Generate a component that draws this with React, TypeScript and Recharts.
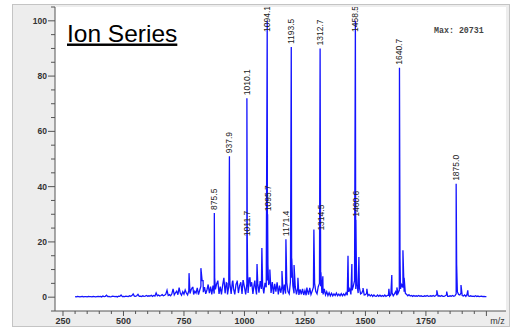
import React from "react";
import { ComposedChart, Line, Scatter, XAxis, YAxis, CartesianGrid } from "recharts";

// baseline noise, one value every 5 m/z starting at 300
const NOISE_START = 300;
const NOISE_STEP = 5;
const noise = [
  0.2, 0.1, 0.3, 0.2, 0.1, 0.2, 0.3, 0.1, 0.2, 0.2, 0.1, 0.3, 0.2, 0.2, 0.1, 0.3, 0.2, 0.1, 0.2, 0.3,
  0.2, 0.3, 0.1, 0.4, 0.2, 0.3, 0.7, 0.2, 0.3, 0.1, 0.2, 0.4, 0.3, 0.2, 0.3, 0.1, 0.4, 0.3, 0.8, 0.2,
  0.3, 0.2, 0.4, 0.3, 0.2, 0.5, 0.3, 0.6, 1.2, 0.4, 0.3, 0.5, 1.0, 0.3, 0.4, 0.2, 0.5, 0.3, 0.4, 0.6,
  0.3, 0.5, 0.4, 0.7, 0.3, 0.6, 0.4, 1.5, 0.5, 0.8, 0.4, 0.6, 0.9, 0.5, 0.7, 1.1, 2.5, 0.6, 0.9, 0.5,
  1.2, 3.0, 0.8, 1.6, 2.2, 0.9, 3.5, 1.4, 0.7, 2.0, 1.1, 2.6, 1.5, 0.8, 2.4, 1.3, 2.8, 3.5, 1.0, 2.2,
  1.5, 3.4, 0.9, 2.5, 4.0, 6.0, 1.8, 3.6, 1.2, 2.6, 4.6, 1.5, 3.8, 1.0, 4.2, 1.3, 2.8, 4.8, 6.0, 1.2,
  3.8, 1.0, 4.4, 7.0, 1.4, 5.2, 1.0, 3.8, 5.0, 1.2, 5.5, 3.0, 1.0, 4.6, 6.0, 1.5, 4.2, 5.4, 1.2, 6.0,
  3.6, 1.0, 4.8, 1.5, 7.0, 3.8, 5.4, 1.2, 4.6, 3.8, 1.0, 4.9, 1.6, 5.8, 3.0, 4.4, 1.4, 5.2, 3.6, 6.0,
  4.4, 5.6, 1.5, 5.5, 1.2, 4.8, 2.0, 5.4, 1.0, 4.2, 1.6, 4.0, 1.0, 4.6, 1.3, 5.2, 2.0, 1.2, 5.5, 7.0,
  4.2, 1.4, 3.8, 1.0, 3.2, 0.8, 2.8, 1.0, 3.0, 0.8, 2.4, 0.7, 2.6, 0.9, 3.4, 1.0, 2.2, 3.6, 5.0, 2.0,
  1.2, 3.8, 5.0, 4.0, 1.5, 1.0, 3.0, 0.8, 2.0, 0.6, 1.6, 0.5, 1.4, 0.5, 1.2, 0.6, 1.5, 0.5, 1.1, 0.5,
  1.3, 0.5, 1.2, 0.6, 1.6, 0.7, 2.0, 3.0, 1.0, 2.5, 4.0, 6.0, 3.0, 4.5, 1.5, 3.5, 1.2, 1.5, 2.6, 0.8,
  0.9, 1.4, 0.5, 1.0, 0.4, 0.9, 0.3, 0.8, 0.4, 0.3, 0.8, 0.3, 0.7, 0.3, 0.6, 0.3, 0.8, 0.3, 0.6, 0.7,
  0.4, 0.9, 1.6, 0.5, 1.2, 2.0, 0.7, 1.5, 2.5, 3.0, 4.5, 3.5, 2.0, 1.4, 1.0, 0.5, 0.9, 0.4, 0.6, 0.3,
  0.6, 0.3, 0.5, 0.3, 0.6, 0.3, 0.5, 0.3, 0.3, 0.5, 0.3, 0.6, 0.3, 0.4, 0.5, 0.3, 0.6, 0.3, 0.5, 1.0,
  0.4, 0.5, 0.3, 0.6, 0.3, 0.3, 0.5, 0.8, 0.3, 0.3, 0.5, 0.3, 0.6, 0.3, 0.5, 1.2, 2.0, 1.0, 0.8, 1.5,
  0.6, 0.4, 0.8, 0.3, 1.0, 0.5, 0.3, 0.5, 0.3, 0.4, 0.2, 0.5, 0.2, 0.4, 0.2, 0.3, 0.4, 0.2, 0.3, 0.2,
  0.2,
];

// labelled ions [m/z, rel. intensity]
const labelledPeaks: [number, number][] = [
  [875.5, 30.5], [937.9, 51], [1010.1, 72], [1011.7, 21], [1094.1, 100], [1095.7, 30],
  [1171.4, 21], [1193.5, 90.5], [1312.7, 90], [1314.5, 23], [1458.5, 100], [1460.6, 28],
  [1640.7, 83], [1875.0, 41],
];

// unlabelled peaks
const otherPeaks: [number, number][] = [
  [771, 8.7], [787, 3.5], [820, 10.5], [829, 6], [877, 7], [890, 6], [915, 7], [928, 5],
  [939.5, 8], [952, 6], [969, 5.5], [994, 6], [1013, 9], [1023, 7], [1043, 6], [1052, 12],
  [1072, 17.8], [1097, 12], [1105, 10], [1155, 9.5], [1195.5, 14], [1205, 11.6], [1221, 7],
  [1258, 3.5], [1287, 24.5], [1316, 9], [1324, 7.6], [1428, 15], [1444, 12], [1462.5, 12],
  [1473, 14.5], [1490, 3.3], [1506, 3], [1597, 3], [1609, 8], [1630, 3.5], [1643, 14],
  [1655, 17], [1660, 7], [1795, 2.5], [1836, 2], [1877, 12], [1895, 4.4], [1923, 2.5],
];

const xTicks = [
  250, 300, 350, 400, 450, 500, 550, 600, 650, 700, 750, 800, 850, 900, 950, 1000, 1050, 1100,
  1150, 1200, 1250, 1300, 1350, 1400, 1450, 1500, 1550, 1600, 1650, 1700, 1750, 1800, 1850,
  1900, 1950, 2000,
];
const xLabels = [250, 500, 750, 1000, 1250, 1500, 1750];
const yTicks = [-5, 0, 5, 10, 15, 20, 25, 30, 35, 40, 45, 50, 55, 60, 65, 70, 75, 80, 85, 90, 95, 100, 105];
const yLabels = [0, 20, 40, 60, 80, 100];

const spectrum = [
  ...noise.map((v, i) => ({ mz: NOISE_START + i * NOISE_STEP, int: v })),
  ...labelledPeaks.map(([mz, v]) => ({ mz, int: v })),
  ...otherPeaks.map(([mz, v]) => ({ mz, int: v })),
].sort((a, b) => a.mz - b.mz);

const labelData = labelledPeaks.map(([mz, v]) => ({ mz, int: v }));

const FONT = "Arial, 'Liberation Sans', sans-serif";

const XTick = (props: any) => {
  const { x, y, payload } = props;
  const v = payload.value;
  const major = v % 250 === 0;
  return (
    <g>
      <line x1={x} x2={x} y1={y} y2={y + (major ? 5 : 3)} stroke="#555" />
      {xLabels.includes(v) && (
        <text x={x} y={y + 10} textAnchor="middle" dominantBaseline="central" fontSize={9} fontWeight="bold" fill="#333" fontFamily={FONT}>
          {v}
        </text>
      )}
      {v === 2000 && (
        <text x={x + 11} y={y + 10} textAnchor="middle" dominantBaseline="central" fontSize={9} fill="#333" fontFamily={FONT}>
          m/z
        </text>
      )}
    </g>
  );
};

const YTick = (props: any) => {
  const { x, y, payload } = props;
  const v = payload.value;
  const major = yLabels.includes(v);
  return (
    <g>
      <line x1={x - (major ? 7 : 4)} x2={x} y1={y} y2={y} stroke="#555" />
      {major && (
        <text x={x - 8} y={y} textAnchor="end" dominantBaseline="central" fontSize={8.5} fontWeight="bold" fill="#333" fontFamily={FONT}>
          {v}
        </text>
      )}
    </g>
  );
};

const PeakLabel = (props: any) => {
  const { cx, cy, payload } = props;
  const bottom = Math.max(cy - 3, 32);
  return (
    <text
      transform={`translate(${cx},${bottom}) rotate(-90)`}
      textAnchor="start"
      dominantBaseline="central"
      fontSize={8.5}
      fill="#222"
      fontFamily={FONT}
    >
      {payload.mz.toFixed(1)}
    </text>
  );
};

export default function App() {
  return (
    <div style={{ position: "absolute", left: 0, top: 0, width: 510, height: 328, background: "#fff" }}>
      <div
        style={{
          position: "absolute",
          left: 12,
          top: 4,
          width: 496,
          height: 321,
          background: "#ededed",
          border: "1px solid #c4c4c4",
        }}
      />
      <div style={{ position: "absolute", left: 0, top: 0 }}>
        <ComposedChart width={510} height={328} margin={{ top: 7, right: 4, bottom: 0, left: 0 }}>
          <CartesianGrid horizontal={false} vertical={false} fill="#fff" />
          <XAxis
            dataKey="mz"
            type="number"
            domain={[217, 2081]}
            allowDataOverflow
            ticks={xTicks}
            interval={0}
            height={17}
            tickSize={0}
            tickMargin={0}
            tick={<XTick />}
            tickLine={false}
            axisLine={{ stroke: "#555" }}
          />
          <XAxis
            xAxisId="top"
            orientation="top"
            type="number"
            domain={[217, 2081]}
            height={0}
            tick={false}
            tickLine={false}
            axisLine={{ stroke: "#c0c0c0" }}
          />
          <YAxis
            type="number"
            domain={[-5, 105]}
            allowDataOverflow
            ticks={yTicks}
            interval={0}
            width={55}
            tickSize={0}
            tickMargin={0}
            tick={<YTick />}
            tickLine={false}
            axisLine={{ stroke: "#555" }}
          />
          <YAxis
            yAxisId="right"
            orientation="right"
            type="number"
            domain={[-5, 105]}
            width={0}
            tick={false}
            tickLine={false}
            axisLine={{ stroke: "#b0b0b0" }}
          />
          <Line
            data={spectrum}
            dataKey="int"
            type="linear"
            stroke="#1414ff"
            strokeWidth={1.3}
            dot={false}
            isAnimationActive={false}
          />
          <Scatter
            data={labelData}
            dataKey="int"
            shape={(p: any) => <PeakLabel {...p} />}
            isAnimationActive={false}
          />
        </ComposedChart>
      </div>
      <svg width={510} height={328} style={{ position: "absolute", left: 0, top: 0, pointerEvents: "none" }}>
        <text x={67} y={41.5} fontSize={24.5} fill="#000" fontFamily={FONT} textDecoration="underline">
          Ion Series
        </text>
        <text x={434} y={33} fontSize={8.3} fontWeight="bold" fill="#444" fontFamily="'Liberation Mono', 'DejaVu Sans Mono', monospace">
          Max: 20731
        </text>
      </svg>
    </div>
  );
}
